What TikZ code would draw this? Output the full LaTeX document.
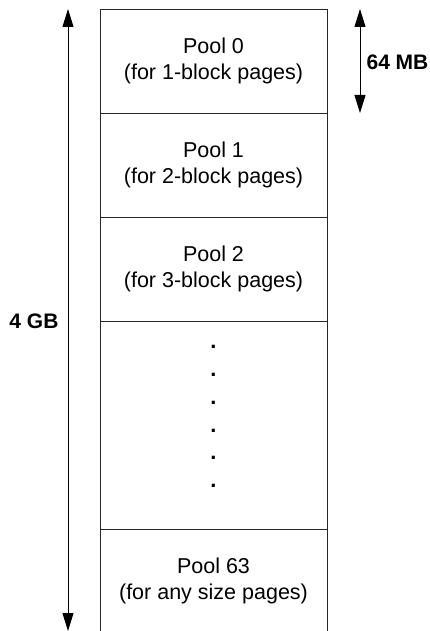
\documentclass[tikz,border=0pt]{standalone}
\usepackage{fontspec}
\setmainfont{Liberation Sans}
\usetikzlibrary{arrows.meta}
\begin{document}
\begin{tikzpicture}[x=1pt,y=-1pt,
  pool/.style={draw=black!85,line width=0.9pt,minimum width=227pt,minimum height=104pt,
    inner sep=0pt,outer sep=0pt,align=center,font=\fontsize{21.5}{26.7}\selectfont},
  dimlabel/.style={font=\fontsize{21}{25}\selectfont\bfseries,inner sep=0pt},
  dotmark/.style={font=\fontsize{22}{26}\selectfont\bfseries,inner sep=0pt,anchor=base},
  dimarrow/.style={line width=1pt,{Triangle[length=18pt,width=11pt]}-{Triangle[length=18pt,width=11pt]}}
]
\useasboundingbox (0,0) rectangle (430,631);
\clip (0,0) rectangle (430,631);
\fill[white] (0,0) rectangle (430,631);
\node[pool] (p0) at (213.5,61) {Pool 0\\(for 1-block pages)};
\node[pool] (p1) at (213.5,165) {Pool 1\\(for 2-block pages)};
\node[pool] (p2) at (213.5,269) {Pool 2\\(for 3-block pages)};
\node[pool,minimum height=208pt] (pd) at (213.5,425) {};
\node[pool] (p63) at (213.5,581) {Pool 63\\(for any size pages)};
\foreach \i/\yy in {1/346.7,2/374.4,3/402.1,4/429.8,5/457.5,6/485.2}
  \node[dotmark] (d\i) at (213.5,\yy+2.2) {.};
\coordinate (gtop) at (68,9);
\coordinate (gbot) at (68,631);
\draw[dimarrow] (gtop) -- (gbot);
\node[dimlabel] (gb) at (34,321) {4 GB};
\coordinate (mtop) at (360,9);
\coordinate (mbot) at (360,113);
\draw[dimarrow] (mtop) -- (mbot);
\node[dimlabel] (mb) at (397.5,62) {64 MB};
\end{tikzpicture}
\end{document}
